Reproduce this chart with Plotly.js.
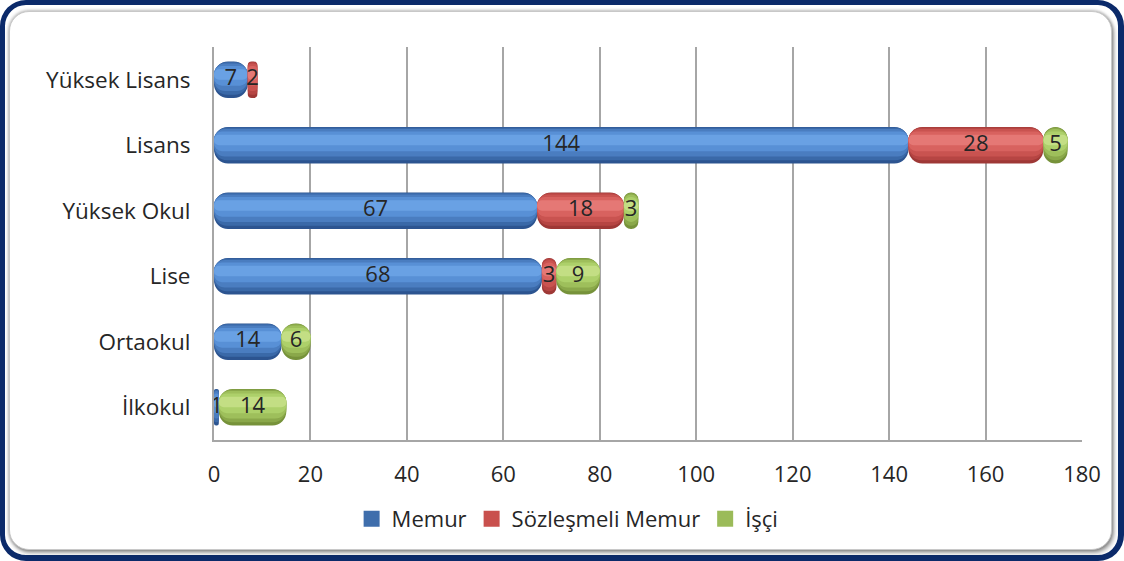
<!DOCTYPE html>
<html>
<head>
<meta charset="utf-8">
<script src="https://cdn.plot.ly/plotly-3.0.1.min.js"></script>
<style>
  html, body { margin:0; padding:0; background:#fff; }
  #outer { position:absolute; left:0; top:0; width:1124px; height:561px; box-sizing:border-box;
           border:5px solid #0b2a6a; border-bottom-width:6px; border-right-width:6px; border-radius:26px; background:#fff; }
  #inner { position:absolute; left:9px; top:11px; width:1103px; height:539px; box-sizing:border-box;
           border:1px solid #c8c8c8; border-radius:20px;
           box-shadow: 0 0 3px 1px rgba(0,0,0,0.25), 2px 3px 4px rgba(0,0,0,0.35); background:#fff; }
  #chart { position:absolute; left:0; top:0; width:1124px; height:561px; }
</style>
</head>
<body>
<div id="outer"></div>
<div id="inner"></div>
<div id="chart"></div>
<script>
// ---- data ----
const categories = ['İlkokul', 'Ortaokul', 'Lise', 'Yüksek Okul', 'Lisans', 'Yüksek Lisans'];
const memur      = [1, 14, 68, 67, 144, 7];
const sozlesmeli = [0, 0, 3, 18, 28, 2];
const isci       = [14, 6, 9, 3, 5, 0];
const seriesNames = ['Memur', 'Sözleşmeli Memur', 'İşçi'];
const xTicks = [0, 20, 40, 60, 80, 100, 120, 140, 160, 180];

// ---- styles ----
const series = [memur, sozlesmeli, isci];
const shades = [
  ['#2c5490', '#3a69a8', '#4a7dc0', '#5890d6', '#69a1e4'],
  ['#9e3836', '#b64543', '#c95350', '#d8625f', '#e57875'],
  ['#76923a', '#8aa84a', '#9ebf5b', '#add06a', '#c3de84']
];
const legendColors = ['#3f6eac', '#c9504d', '#9bbb59'];
const layers = [ // [width, offset, radius]
  [0.56, -0.28, 14],
  [0.50, -0.23, 13],
  [0.42, -0.17, 11],
  [0.30, -0.09, 8],
  [0.16, 0.00, 5]
];
const FONT = '"Open Sans", "Noto Sans", sans-serif';
const TXT = '#262626';

const traces = [];
const starts = series.map(() => []);
let cum = categories.map(() => 0);
series.forEach((vals, s) => {
  vals.forEach((v, i) => { starts[s][i] = cum[i]; });
  cum = cum.map((c, i) => c + vals[i]);
});

series.forEach((vals, s) => {
  layers.forEach(([w, off, r], k) => {
    traces.push({
      type: 'bar', orientation: 'h', y: categories, x: vals, base: starts[s],
      width: w, offset: off,
      marker: { color: shades[s][k], cornerradius: r, line: { width: 0 } },
      showlegend: false, hoverinfo: 'skip'
    });
  });
});

// legend entries (square symbols)
series.forEach((vals, s) => {
  traces.push({
    type: 'scatter', mode: 'markers', x: [null], y: [null],
    marker: { symbol: 'square', size: 19, color: legendColors[s] },
    name: seriesNames[s], showlegend: true, hoverinfo: 'skip'
  });
});

// value labels
const lx = [], ly = [], lt = [];
series.forEach((vals, s) => {
  vals.forEach((v, i) => {
    if (v > 0) { lx.push(starts[s][i] + v / 2); ly.push(categories[i]); lt.push(String(v)); }
  });
});
traces.push({
  type: 'scatter', mode: 'text', x: lx, y: ly, text: lt,
  textposition: 'middle center',
  textfont: { family: FONT, size: 22, color: TXT },
  showlegend: false, hoverinfo: 'skip'
});

const layout = {
  width: 1124, height: 561,
  paper_bgcolor: 'rgba(0,0,0,0)', plot_bgcolor: 'rgba(0,0,0,0)',
  margin: { l: 214, r: 42, t: 47, b: 121 },
  barmode: 'overlay',
  font: { family: FONT, size: 22, color: TXT },
  hovermode: false,
  xaxis: {
    range: [0, 180], tickvals: xTicks, ticktext: xTicks.map(String),
    showgrid: true, gridcolor: '#a6a6a6', gridwidth: 2,
    zeroline: false, showline: true, linecolor: '#a6a6a6', linewidth: 2,
    ticks: '', ticklabelstandoff: 14,
    tickfont: { family: FONT, size: 22, color: TXT }
  },
  yaxis: {
    type: 'category', categoryorder: 'array', categoryarray: categories,
    range: [-0.5, 5.5],
    showgrid: false, zeroline: false, showline: true, linecolor: '#a6a6a6', linewidth: 2,
    ticks: '', ticklabelstandoff: 17,
    tickfont: { family: FONT, size: 22.5, color: TXT }
  },
  legend: {
    orientation: 'h', xref: 'container', yref: 'container',
    x: 0.505, xanchor: 'center', y: 0.075, yanchor: 'middle',
    font: { family: FONT, size: 22, color: TXT },
    itemwidth: 30, traceorder: 'normal', bgcolor: 'rgba(0,0,0,0)'
  }
};

Plotly.newPlot('chart', traces, layout, { displayModeBar: false, staticPlot: true });
</script>
</body>
</html>
